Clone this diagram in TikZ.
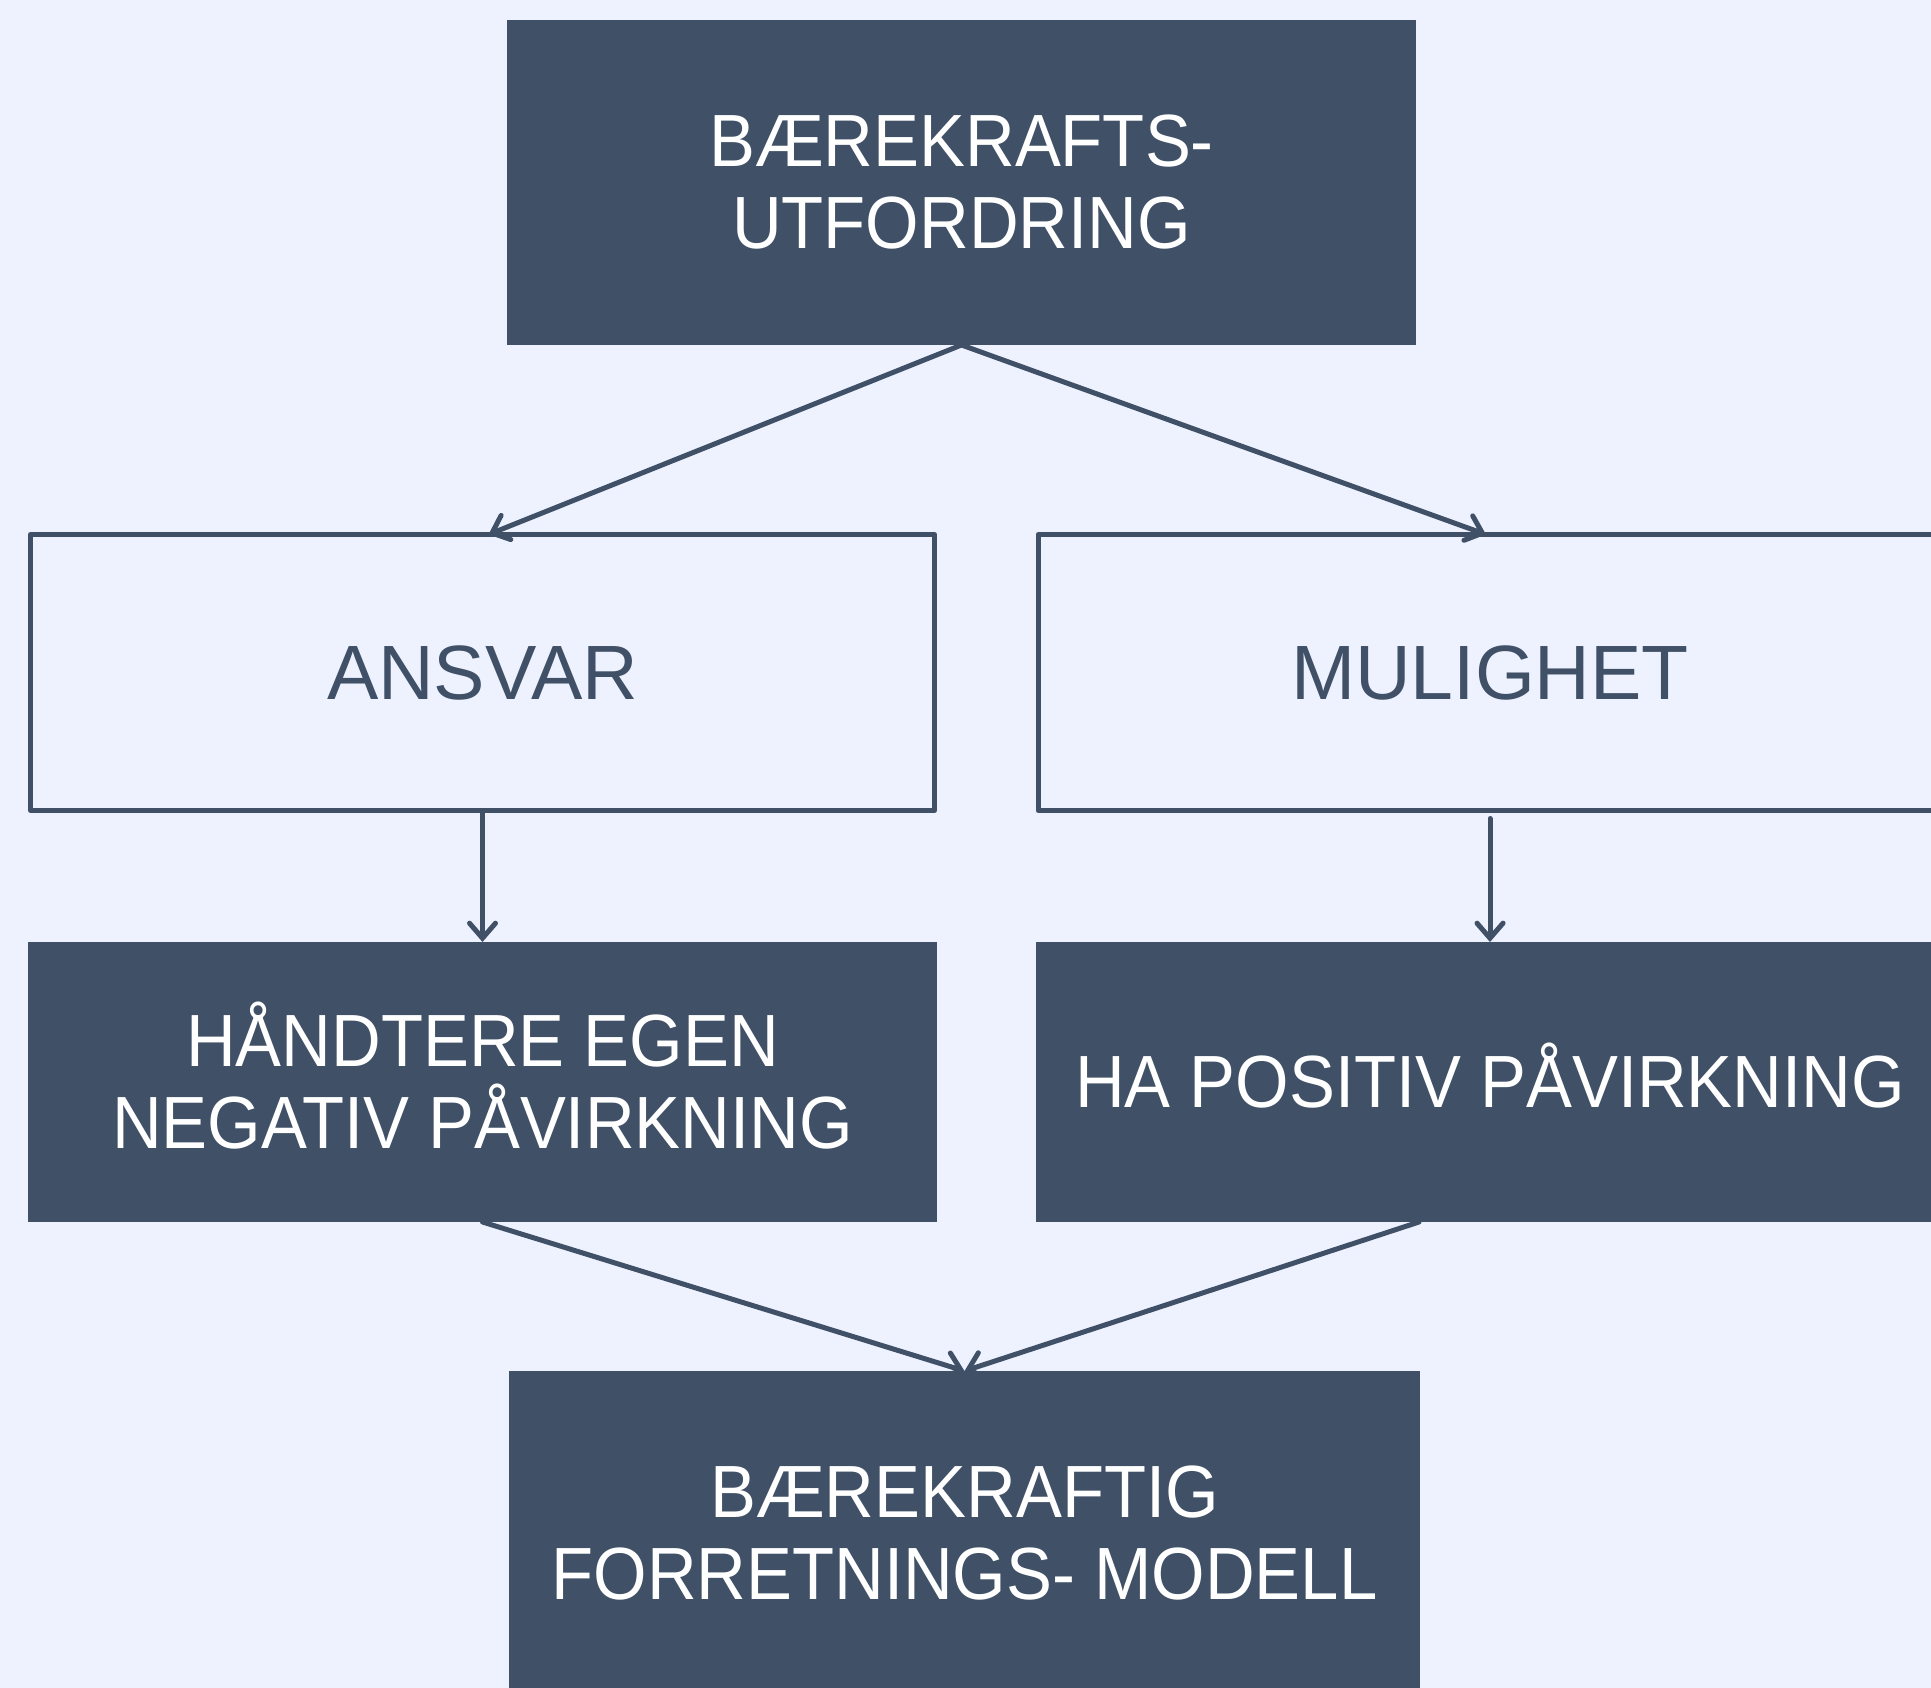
\documentclass[tikz,border=0pt]{standalone}
\usepackage{fontspec}
\setmainfont{Liberation Sans}[FakeStretch=0.93]
\newfontfamily\lightfont{Liberation Sans}
\usetikzlibrary{arrows.meta}
\definecolor{bgc}{RGB}{238,242,255}
\definecolor{dark}{RGB}{64,80,102}
\begin{document}
\begin{tikzpicture}[x=1pt,y=-1pt,
  boxbase/.style={minimum width=909pt,inner sep=0pt,outer sep=0pt,align=center,font=\fontsize{74}{82}\selectfont},
  darkbox/.style={boxbase,fill=dark,draw=none,text=white},
  lightbox/.style={boxbase,fill=bgc,draw=dark,line width=5pt,line join=round,text=dark,minimum width=904pt,font=\lightfont\fontsize{77}{85}\selectfont},
  conn/.style={draw=dark,line width=5pt,line cap=round,-{Straight Barb[length=15pt,width=26pt,line cap=round]}}]
\useasboundingbox (0,0) rectangle (1931,1688);
\clip (0,0) rectangle (1931,1688);
\fill[bgc] (0,0) rectangle (1931,1688);
\node[darkbox,minimum height=325pt] (top) at (961.5,182.5) {BÆREKRAFTS-\\UTFORDRING};
\node[lightbox,minimum height=276pt] (ansvar) at (482.5,672.5) {ANSVAR};
\node[lightbox,minimum height=276pt] (mulighet) at (1490,672.5) {MULIGHET};
\node[darkbox,minimum height=280pt] (handtere) at (482.5,1082) {H\smash{Å}NDTERE EGEN\\NEGATIV P\smash{Å}VIRKNING};
\node[darkbox,minimum height=280pt] (hapos) at (1490,1082) {HA POSITIV P\smash{Å}VIRKNING};
\node[darkbox,minimum height=325pt,minimum width=911pt] (bottom) at (964.5,1533.5) {BÆREKRAFTIG\\FORRETNINGS- MODELL};
\draw[conn] (top.south) -- ([xshift=6pt]ansvar.north);
\draw[conn] (top.south) -- ([xshift=-4pt]mulighet.north);
\draw[conn] (ansvar.south) -- (handtere.north);
\draw[conn] ([yshift=-8pt]mulighet.south) -- (hapos.north);
\draw[conn] (handtere.south) -- (bottom.north);
\draw[conn] ([xshift=-71pt]hapos.south) -- (bottom.north);
\end{tikzpicture}
\end{document}
